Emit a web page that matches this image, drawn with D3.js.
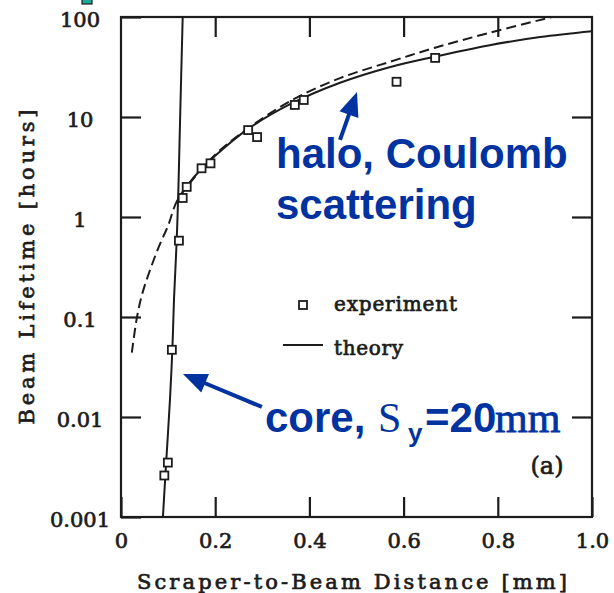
<!DOCTYPE html>
<html>
<head>
<meta charset="utf-8">
<script src="https://cdn.jsdelivr.net/npm/d3@7"></script>
<style>
body { margin: 0; background: #fff; }
svg { display: block; }
.ink { font-family: "DejaVu Serif", serif; fill: #1c1c1c; stroke: #1c1c1c; stroke-width: 0.7px; }
.note { font-family: "Liberation Sans", Arial, sans-serif; font-weight: bold; fill: #0033a0; }
</style>
</head>
<body>
<div id="chart"></div>
<script>
// CHART SIZE
const width = 614;
const height = 593;
const margin = {top: 17, right: 22, bottom: 76, left: 121};

// DATA
// axis ticks
const xTicks = [0, 0.2, 0.4, 0.6, 0.8, 1.0];
const xTickLabels = ["0", "0.2", "0.4", "0.6", "0.8", "1.0"];
const yTicks = [0.001, 0.01, 0.1, 1, 10, 100];
const yTickLabels = ["0.001", "0.01", "0.1", "1", "10", "100"];

// core theory curve (solid, almost vertical)
const coreDist = [0.089, 0.095, 0.104, 0.109, 0.1125, 0.118, 0.122, 0.126, 0.131];
const coreLife = [0.001, 0.003, 0.015, 0.047, 0.15, 0.55, 2, 12, 100];

// halo theory curve (solid)
const haloDist = [0.121, 0.14, 0.17, 0.2, 0.27, 0.36, 0.465, 0.57, 0.665, 0.78, 0.89, 1.0];
const haloLife = [1.5, 2.05, 3.0, 4.1, 7.6, 13.5, 22, 31.5, 40, 52, 63, 72];

// halo theory curve (dashed)
const dashDist = [0.023, 0.034, 0.045, 0.06, 0.08, 0.1, 0.119, 0.15, 0.2, 0.27, 0.36, 0.465, 0.57, 0.665, 0.78, 0.915];
const dashLife = [0.044, 0.1, 0.17, 0.28, 0.5, 0.82, 1.45, 2.3, 4.2, 7.7, 14.5, 24.5, 35.5, 49, 69, 100];

// experiment points
const expDist = [0.092, 0.0995, 0.108, 0.123, 0.131, 0.1395, 0.171, 0.19, 0.27, 0.289, 0.369, 0.388, 0.585, 0.667];
const expLife = [0.0026, 0.0035, 0.047, 0.58, 1.55, 2.0, 3.07, 3.44, 7.4, 6.3, 13.2, 14.8, 22.5, 39];

// annotation arrows [tailX, tailY, tipX, tipY] in data units
const haloArrow = [0.465, 5.9, 0.501, 17.8];
const coreArrow = [0.299, 0.0126, 0.1316, 0.0269];

// svg
const svg = d3.select("#chart")
    .append("svg")
        .attr("width", width)
        .attr("height", height)
        .attr("viewBox", [0, 0, width, height]);

// scales
const x = d3.scaleLinear()
    .domain([0, 1])
    .range([margin.left, width - margin.right]);

const y = d3.scaleLog()
    .domain([0.001, 100])
    .range([height - margin.bottom, margin.top]);

const ink = "#1c1c1c";

// stray teal box from the slide, top left
svg.append("rect")
    .attr("x", 82).attr("y", -2)
    .attr("width", 10).attr("height", 6)
    .attr("fill", "#1aa89a")
    .attr("stroke", ink)
    .attr("stroke-width", 1.2);

// AXES (ticks point inward)
function styleAxis(g) {
    g.select(".domain").remove();
    g.selectAll(".tick line")
        .attr("stroke", ink)
        .attr("stroke-width", 2.2);
    g.attr("font-family", null).attr("font-size", null);
    g.selectAll(".tick text")
        .attr("class", "ink")
        .attr("fill", null)
        .style("font-size", "21px");
}

svg.append("g")
    .attr("transform", `translate(0,${height - margin.bottom})`)
    .call(d3.axisBottom(x)
        .tickValues(xTicks)
        .tickSize(-20)
        .tickPadding(16)
        .tickFormat((d, i) => xTickLabels[i]))
    .call(styleAxis);

svg.append("g")
    .attr("transform", `translate(0,${margin.top})`)
    .call(d3.axisTop(x)
        .tickValues(xTicks.slice(1, -1))
        .tickSize(-20)
        .tickFormat(""))
    .call(styleAxis);

svg.append("g")
    .attr("transform", `translate(${margin.left},0)`)
    .call(d3.axisLeft(y)
        .tickValues(yTicks)
        .tickSize(-20)
        .tickFormat((d, i) => yTickLabels[i]))
    .call(styleAxis)
    .call(g => g.selectAll(".tick text")
        .attr("x", 80 - margin.left)
        .attr("dy", "0.45em")
        .attr("text-anchor", "middle"));

svg.append("g")
    .attr("transform", `translate(${width - margin.right},0)`)
    .call(d3.axisRight(y)
        .tickValues(yTicks.slice(1, -1))
        .tickSize(-20)
        .tickFormat(""))
    .call(styleAxis);

// frame
svg.append("rect")
    .attr("x", x(0))
    .attr("y", y(100))
    .attr("width", x(1) - x(0))
    .attr("height", y(0.001) - y(100))
    .attr("fill", "none")
    .attr("stroke", ink)
    .attr("stroke-width", 2.2);

// axis titles
svg.append("text")
    .attr("class", "ink")
    .attr("x", 352)
    .attr("y", 589)
    .attr("text-anchor", "middle")
    .attr("textLength", 430)
    .style("font-size", "21px")
    .text("Scraper-to-Beam Distance [mm]");

svg.append("text")
    .attr("class", "ink")
    .attr("transform", "translate(34,267) rotate(-90)")
    .attr("text-anchor", "middle")
    .attr("textLength", 315)
    .style("font-size", "21px")
    .text("Beam Lifetime [hours]");

// CURVES
const line = d3.line()
    .x(d => x(d[0]))
    .y(d => y(d[1]))
    .curve(d3.curveCatmullRom.alpha(0.5));

const plot = svg.append("g");

plot.append("path")
    .datum(dashDist.map((d, i) => [d, dashLife[i]]))
    .attr("d", line)
    .attr("fill", "none")
    .attr("stroke", ink)
    .attr("stroke-width", 2)
    .attr("stroke-dasharray", "10,5");

plot.append("path")
    .datum(haloDist.map((d, i) => [d, haloLife[i]]))
    .attr("d", line)
    .attr("fill", "none")
    .attr("stroke", ink)
    .attr("stroke-width", 2);

plot.append("path")
    .datum(coreDist.map((d, i) => [d, coreLife[i]]))
    .attr("d", line)
    .attr("fill", "none")
    .attr("stroke", ink)
    .attr("stroke-width", 2);

// experiment squares
const sq = 8;
plot.selectAll(".exp")
    .data(expDist.map((d, i) => [d, expLife[i]]))
    .enter()
    .append("rect")
        .attr("class", "exp")
        .attr("x", d => x(d[0]) - sq / 2)
        .attr("y", d => y(d[1]) - sq / 2)
        .attr("width", sq)
        .attr("height", sq)
        .attr("fill", "#fff")
        .attr("stroke", ink)
        .attr("stroke-width", 1.8);

// LEGEND
const legend = svg.append("g");
legend.append("rect")
    .attr("x", 299).attr("y", 301)
    .attr("width", sq).attr("height", sq)
    .attr("fill", "#fff")
    .attr("stroke", ink)
    .attr("stroke-width", 1.8);
legend.append("text")
    .attr("class", "ink")
    .attr("x", 334).attr("y", 311)
    .attr("textLength", 123)
    .style("font-size", "20px")
    .text("experiment");
legend.append("line")
    .attr("x1", 283).attr("x2", 323)
    .attr("y1", 345).attr("y2", 345)
    .attr("stroke", ink)
    .attr("stroke-width", 2.2);
legend.append("text")
    .attr("class", "ink")
    .attr("x", 334).attr("y", 355)
    .attr("textLength", 69)
    .style("font-size", "20px")
    .text("theory");

svg.append("text")
    .attr("class", "ink")
    .attr("x", 547).attr("y", 474)
    .attr("text-anchor", "middle")
    .style("font-size", "24px")
    .text("(a)");

// ANNOTATIONS
const blue = "#0033a0";

function arrow(a) {
    const x0 = x(a[0]), y0 = y(a[1]), x1 = x(a[2]), y1 = y(a[3]);
    const len = Math.hypot(x1 - x0, y1 - y0);
    const ux = (x1 - x0) / len, uy = (y1 - y0) / len;
    const headLen = 24, headW = 10;
    const bx = x1 - ux * headLen, by = y1 - uy * headLen;
    svg.append("line")
        .attr("x1", x0).attr("y1", y0)
        .attr("x2", bx + ux * 2).attr("y2", by + uy * 2)
        .attr("stroke", blue)
        .attr("stroke-width", 4);
    svg.append("path")
        .attr("d", `M${x1},${y1} L${bx - uy * headW},${by + ux * headW} L${bx + uy * headW},${by - ux * headW} Z`)
        .attr("fill", blue);
}
arrow(haloArrow);
arrow(coreArrow);

svg.append("text")
    .attr("class", "note")
    .attr("x", 276).attr("y", 168)
    .style("font-size", "42px")
    .text("halo, Coulomb");
svg.append("text")
    .attr("class", "note")
    .attr("x", 276).attr("y", 219)
    .style("font-size", "42px")
    .text("scattering");

const core = svg.append("text")
    .attr("class", "note")
    .attr("x", 265).attr("y", 432)
    .style("font-size", "42px");
core.append("tspan").text("core,");
core.append("tspan")
    .attr("x", 378)
    .style("font-family", "'Liberation Serif', serif")
    .style("font-weight", "normal")
    .text("S");
core.append("tspan")
    .attr("x", 408)
    .attr("dy", 10)
    .style("font-size", "26px")
    .text("y");
core.append("tspan")
    .attr("x", 425)
    .attr("dy", -10)
    .text("=20");
core.append("tspan")
    .attr("x", 495)
    .style("font-family", "'Liberation Serif', serif")
    .style("font-weight", "normal")
    .attr("stroke", blue)
    .attr("stroke-width", 0.8)
    .text("mm");
</script>
</body>
</html>
